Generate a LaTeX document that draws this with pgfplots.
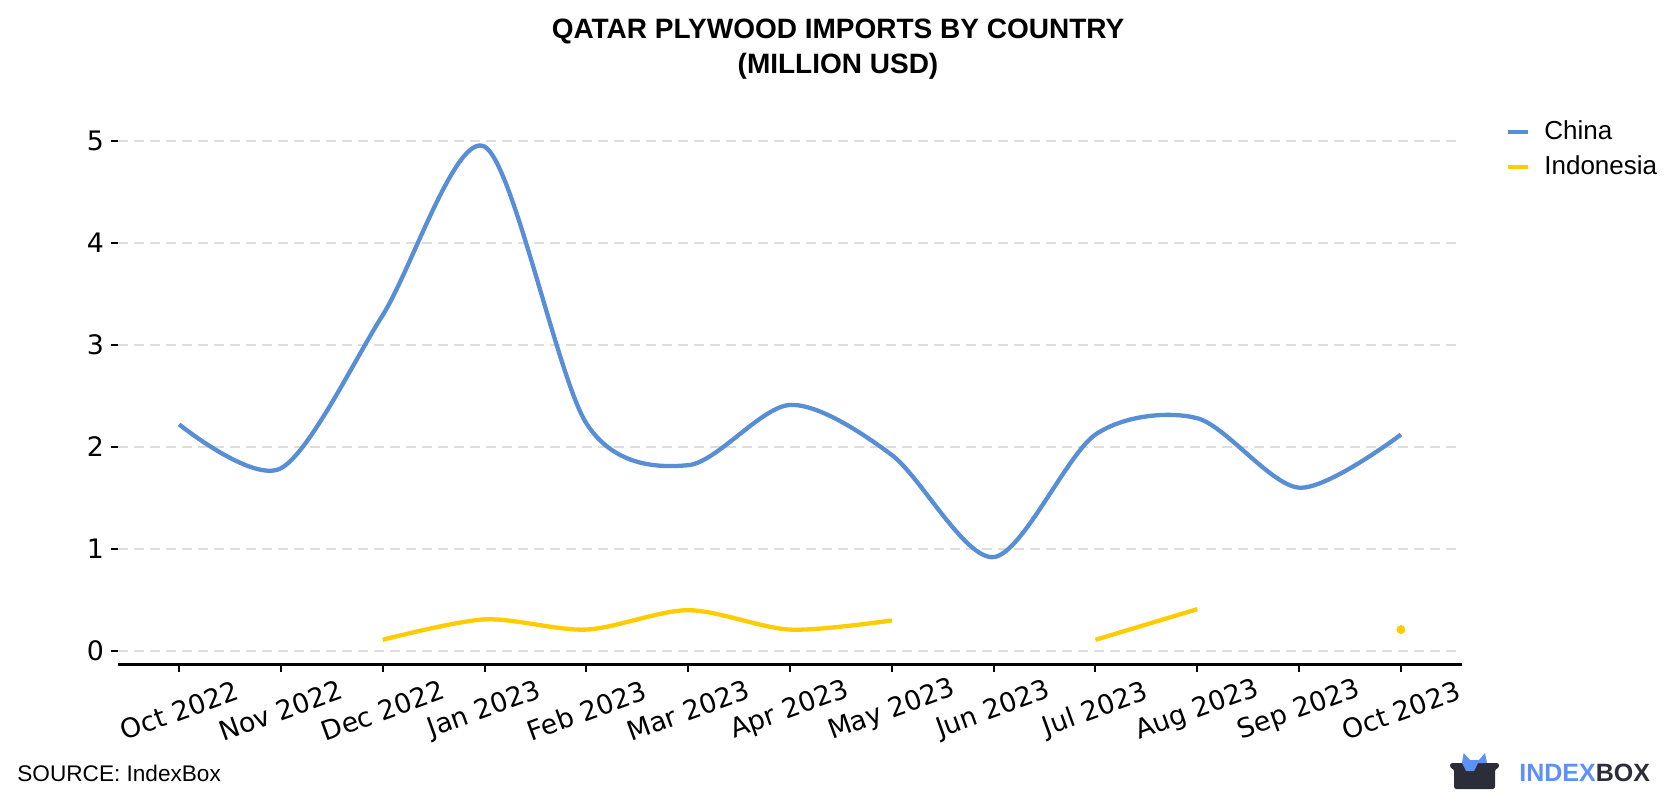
\documentclass[border=0pt]{standalone}
\usepackage{pgfplots}
\pgfplotsset{compat=1.18}
\usepackage{fontspec}
\setmainfont{Liberation Sans}
\newfontfamily\dejavu{DejaVu Sans}
\definecolor{chinablue}{RGB}{87,142,214}
\definecolor{indoyellow}{RGB}{255,204,0}
\definecolor{gridgray}{RGB}{221,221,221}
\definecolor{logodark}{RGB}{43,45,56}
\definecolor{logoblue}{RGB}{94,145,247}
\begin{document}
\begin{tikzpicture}
\path[use as bounding box] (0pt,0pt) rectangle (840pt,400pt);
\begin{axis}[
  scale only axis, width=672pt, height=267.15pt,
  at={(59pt,67.7pt)}, anchor=south west,
  xmin=-0.6, xmax=12.6, ymin=-0.133, ymax=5.1,
  axis x line*=bottom, axis y line*=left,
  x axis line style={line width=1.25pt, -},
  y axis line style={draw=none},
  xtick={0,...,12},
  xticklabels={Oct 2022,Nov 2022,Dec 2022,Jan 2023,Feb 2023,Mar 2023,Apr 2023,May 2023,Jun 2023,Jul 2023,Aug 2023,Sep 2023,Oct 2023},
  ytick={0,...,5},
  tick align=outside,
  major tick length=3.5pt,
  every tick/.style={black, line width=1pt},
  ymajorgrids,
  grid style={gridgray, line width=1pt, dash pattern=on 5pt off 3pt},
  /pgf/number format/assume math mode=true,
  x tick label style={font=\dejavu\fontsize{13.4}{15}\selectfont, rotate=20, anchor=center},
  xticklabel shift=19.5pt,
  y tick label style={font=\dejavu\fontsize{13.4}{15}\selectfont},
  unbounded coords=jump,
  legend cell align=left,
  legend style={at={(axis description cs:1.0327,1.0268)}, anchor=north west, draw=none, fill=none,
    inner sep=0pt, font=\fontsize{13}{15}\selectfont,
    nodes={inner sep=2pt, text height=9.5pt, text depth=2.5pt},
    row sep=1.5pt, column sep=5pt},
  legend image code/.code={\draw[#1, line width=2pt] (0pt,0pt) -- (10pt,0pt);},
]
\addplot[chinablue, line width=2.15pt, smooth] coordinates {
  (0,2.22) (1,1.79) (2,3.29) (3,4.94) (4,2.23) (5,1.82) (6,2.41)
  (7,1.92) (8,0.92) (9,2.12) (10,2.28) (11,1.60) (12,2.12)
};
\addlegendentry{China}
\addplot[indoyellow, line width=2.15pt, smooth] coordinates {
  (2,0.11) (3,0.31) (4,0.21) (5,0.40) (6,0.21) (7,0.30) (8,nan)
  (9,0.11) (10,0.41) (11,nan) (12,0.21)
};
\addlegendentry{Indonesia}
\addplot[indoyellow, only marks, mark=*, mark size=2pt, forget plot] coordinates {(12,0.21)};
\end{axis}
\node[anchor=base, inner sep=0pt, font=\bfseries\fontsize{14}{17}\selectfont] at (419pt,380.5pt) {QATAR PLYWOOD IMPORTS BY COUNTRY};
\node[anchor=base, inner sep=0pt, font=\bfseries\fontsize{14}{17}\selectfont] at (419pt,363pt) {(MILLION USD)};
\node[anchor=base west, inner sep=0pt, font=\fontsize{11.3}{13}\selectfont] at (8.5pt,9.5pt) {SOURCE: IndexBox};
\fill[logodark, rounded corners=1.2pt] (725pt,18.5pt) -- (749.5pt,18.5pt) -- (749.5pt,16pt) -- (747.5pt,15.5pt) -- (747.5pt,5.5pt) -- (727pt,5.5pt) -- (727pt,15.5pt) -- (725pt,16pt) -- cycle;
\fill[logoblue] (731pt,18.5pt) -- (731.8pt,23.5pt) -- (735pt,20pt) -- (739.5pt,20pt) -- (742.5pt,23.5pt) -- (743.5pt,18.5pt) -- (739pt,18.5pt) -- (737pt,14.5pt) -- (733pt,14.5pt) -- cycle;
\node[anchor=base west, inner sep=0pt, font=\bfseries\fontsize{12.5}{14}\selectfont] at (759.5pt,9.5pt) {\textcolor{logoblue}{INDEX}\textcolor{logodark}{BOX}};
\end{tikzpicture}
\end{document}
